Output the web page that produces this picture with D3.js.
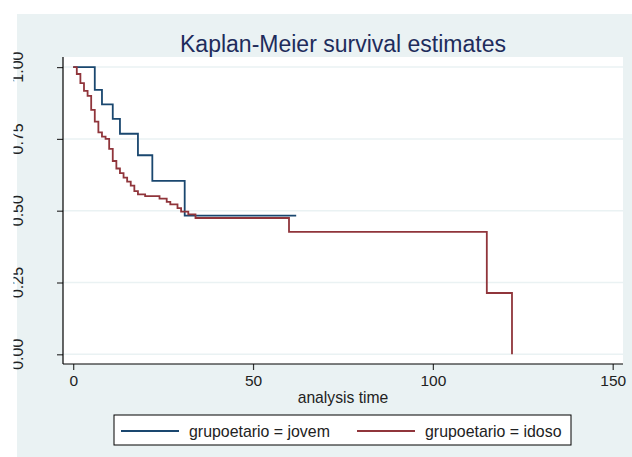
<!DOCTYPE html>
<html>
<head>
<meta charset="utf-8">
<script src="https://cdn.jsdelivr.net/npm/d3@7"></script>
<style>
body { margin: 0; background: #fff; }
text { font-family: "Liberation Sans", Arial, sans-serif; }
</style>
</head>
<body>
<div id="viz"></div>
<script>
// survival data
var jovemTime = [0, 6, 8, 11, 13, 18, 22, 31, 62];
var jovemSurv = [1, 0.921, 0.870, 0.820, 0.768, 0.693, 0.604, 0.483, 0.483];

var idosoTime = [0, 1, 2, 3, 4, 5, 6, 7, 8, 9, 10, 11, 12, 13, 14, 15, 16, 17, 18, 20,
                 24, 26, 27, 29, 30, 32, 34, 60, 115, 122];
var idosoSurv = [1, 0.976, 0.944, 0.917, 0.900, 0.851, 0.810, 0.773, 0.758, 0.750, 0.715, 0.673,
                 0.647, 0.631, 0.615, 0.601, 0.587, 0.568, 0.557, 0.551,
                 0.542, 0.531, 0.522, 0.509, 0.497, 0.487, 0.4746, 0.426, 0.2134, 0];

var xTicks = [0, 50, 100, 150];
var yTicks = [0, 0.25, 0.5, 0.75, 1];
var seriesNames = ["grupoetario = jovem", "grupoetario = idoso"];
var seriesColors = ["#1a476f", "#90353b"];

width = 632;
height = 457;

var svg = d3.select("#viz").append("svg")
	.attr("width", width)
	.attr("height", height);

svg.append("rect")
	.attr("x", 17).attr("y", 14)
	.attr("width", width - 17).attr("height", height - 14)
	.attr("fill", "#eaf2f3");

var x = d3.scaleLinear().domain([0, 150]).range([73.2, 612.7]);
var y = d3.scaleLinear().domain([0, 1]).range([354.3, 67.1]);

var plotL = 63, plotR = 623, plotT = 57, plotB = 364;

svg.append("rect")
	.attr("x", plotL).attr("y", plotT)
	.attr("width", plotR - plotL).attr("height", plotB - plotT)
	.attr("fill", "white");

// grid
svg.append("g").selectAll("line").data(yTicks).enter().append("line")
	.attr("x1", plotL).attr("x2", plotR)
	.attr("y1", function(d) { return y(d); })
	.attr("y2", function(d) { return y(d); })
	.attr("stroke", "#eaf2f3")
	.attr("stroke-width", 1.5);

// title
svg.append("text")
	.attr("x", 343).attr("y", 52)
	.attr("text-anchor", "middle")
	.style("font-size", "23px")
	.attr("fill", "#1e2c5c")
	.text("Kaplan-Meier survival estimates");

// y axis
var yAxis = svg.append("g")
	.attr("transform", "translate(" + plotL + ",0)")
	.call(d3.axisLeft(y).tickValues(yTicks).tickSize(6).tickFormat(""));
yAxis.select(".domain").remove();
yAxis.selectAll("line").attr("stroke", "#333").attr("stroke-width", 1.2);

svg.append("line")
	.attr("x1", plotL).attr("x2", plotL)
	.attr("y1", plotT).attr("y2", plotB)
	.attr("stroke", "black").attr("stroke-width", 1.2);

svg.append("clipPath").attr("id", "lblclip")
	.append("rect").attr("x", 13.5).attr("y", 0).attr("width", 100).attr("height", height);

svg.append("g").attr("clip-path", "url(#lblclip)")
	.selectAll("text").data(yTicks).enter().append("text")
	.attr("transform", function(d) { return "translate(23," + y(d) + ") rotate(-90)"; })
	.attr("text-anchor", "middle")
	.style("font-size", "16px")
	.attr("fill", "#222")
	.text(function(d) { return d3.format(".2f")(d); });

// x axis
var xAxis = svg.append("g")
	.attr("transform", "translate(0," + plotB + ")")
	.call(d3.axisBottom(x).tickValues(xTicks).tickSize(6).tickPadding(5));
xAxis.select(".domain").remove();
xAxis.selectAll("line").attr("stroke", "#333").attr("stroke-width", 1.2);
xAxis.selectAll("text")
	.style("font-size", "15.5px")
	.style("font-family", "Liberation Sans, Arial, sans-serif")
	.attr("fill", "#222");

svg.append("line")
	.attr("x1", plotL).attr("x2", plotR)
	.attr("y1", plotB).attr("y2", plotB)
	.attr("stroke", "black").attr("stroke-width", 1.2);

svg.append("text")
	.attr("x", 343).attr("y", 403)
	.attr("text-anchor", "middle")
	.style("font-size", "15.7px")
	.attr("fill", "#222")
	.text("analysis time");

// step lines
var line = d3.line()
	.x(function(d) { return x(d[0]); })
	.y(function(d) { return y(d[1]); })
	.curve(d3.curveStepAfter);

var jovem = d3.zip(jovemTime, jovemSurv);
var idoso = d3.zip(idosoTime, idosoSurv);

[jovem, idoso].forEach(function(s, i) {
	svg.append("path").datum(s)
		.attr("d", line)
		.attr("fill", "none")
		.attr("stroke", seriesColors[i])
		.attr("stroke-width", 1.8);
});

// legend
svg.append("rect")
	.attr("x", 114).attr("y", 415)
	.attr("width", 457).attr("height", 30)
	.attr("fill", "white")
	.attr("stroke", "black")
	.attr("stroke-width", 1);

var legX = [121, 357];
seriesNames.forEach(function(n, i) {
	svg.append("line")
		.attr("x1", legX[i]).attr("x2", legX[i] + 58)
		.attr("y1", 431).attr("y2", 431)
		.attr("stroke", seriesColors[i])
		.attr("stroke-width", 1.8);
	svg.append("text")
		.attr("x", legX[i] + 68).attr("y", 436.5)
		.style("font-size", "15.9px")
		.attr("fill", "#222")
		.text(n);
});
</script>
</body>
</html>
